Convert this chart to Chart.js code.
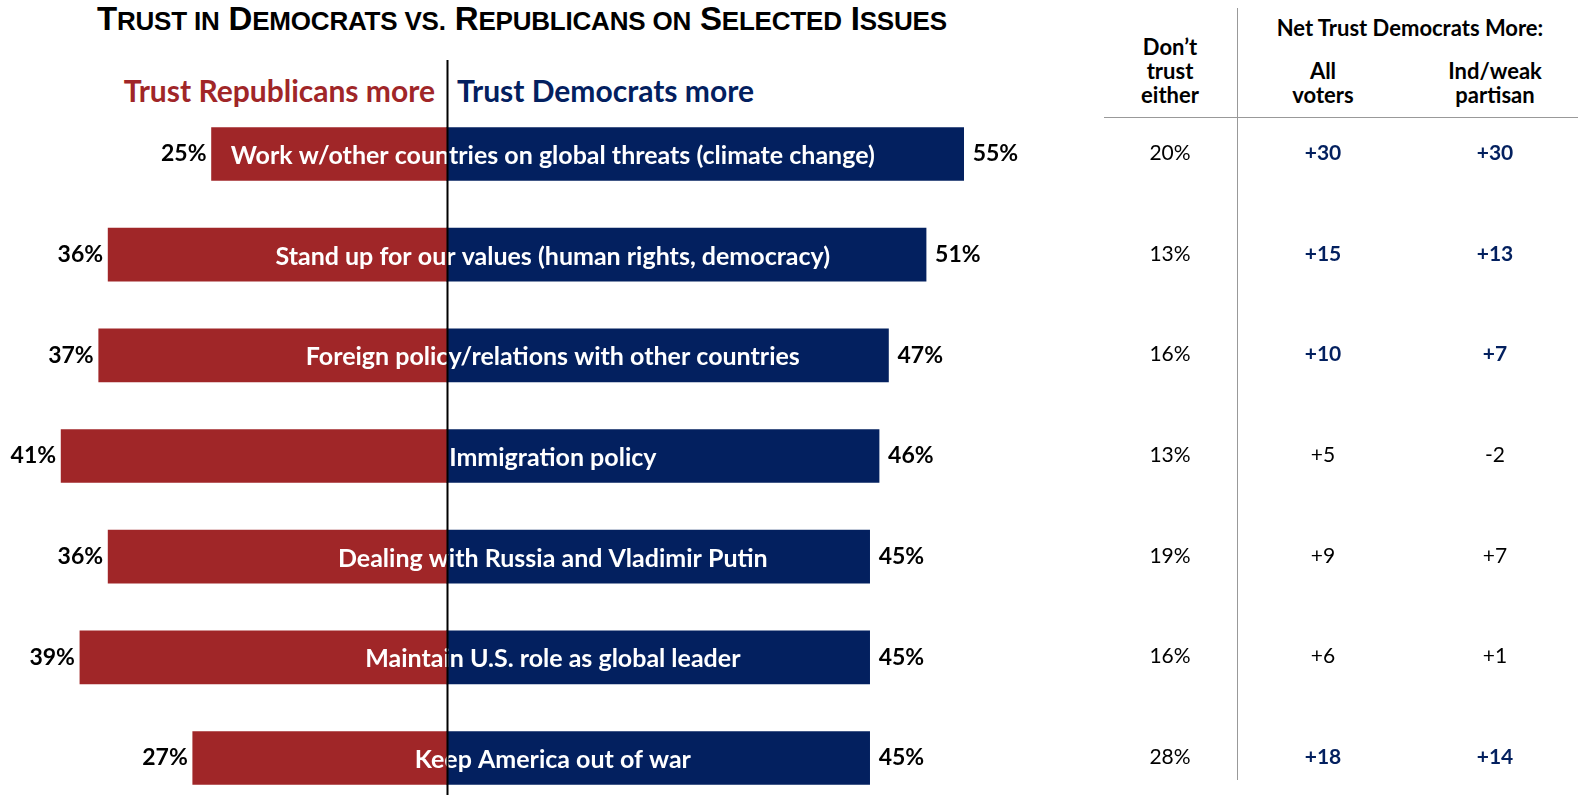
<!DOCTYPE html>
<html>
<head>
<meta charset="utf-8">
<script src="https://cdn.jsdelivr.net/npm/chart.js@4/dist/chart.umd.min.js"></script>
<style>
  html, body { margin: 0; padding: 0; background: #fff; overflow: hidden; }
  body { width: 1578px; height: 800px; position: relative; font-family: Lato, "Open Sans", sans-serif; }
  #chart { position: absolute; left: 0; top: 0; }
  .abs { position: absolute; white-space: nowrap; }
  #title { left: 97px; top: 0px; font-family: "Liberation Sans", Arial, sans-serif; font-weight: bold;
           font-size: 33px; letter-spacing: -0.2px; color: #000; }
  #title .sc { font-size: 26px; }
  .side { top: 72px; font-size: 30px; font-weight: bold; }
  #repHead { right: 1143px; color: #A02628; }
  #demHead { left: 457px; color: #03205F; }
  .th { font-size: 22px; font-weight: bold; text-align: center; line-height: 24px; color: #000; }
  .cell { font-size: 21px; text-align: center; width: 100px; margin-left: -50px; color: #000; }
  .cell.sig { font-weight: bold; color: #03205F; }
  #vline { left: 1237px; top: 8px; width: 1px; height: 772px; background: #999; }
  #hline { left: 1104px; top: 117px; width: 474px; height: 1px; background: #999; }
</style>
</head>
<body>
<div id="title" class="abs">T<span class="sc">RUST IN</span> D<span class="sc">EMOCRATS VS.</span> R<span class="sc">EPUBLICANS ON</span> S<span class="sc">ELECTED</span> I<span class="sc">SSUES</span></div>
<div id="repHead" class="abs side">Trust Republicans more</div>
<div id="demHead" class="abs side">Trust Democrats more</div>
<div id="vline" class="abs"></div>
<div id="hline" class="abs"></div>
<div class="abs th" style="left:1120px; top:35px; width:100px;">Don’t<br>trust<br>either</div>
<div class="abs th" style="left:1250px; top:16px; width:320px;">Net Trust Democrats More:</div>
<div class="abs th" style="left:1273px; top:59px; width:100px;">All<br>voters</div>
<div class="abs th" style="left:1425px; top:59px; width:140px;">Ind/weak<br>partisan</div>
<canvas id="chart" width="1578" height="800"></canvas>
<script>
const categories = [
  'Work w/other countries on global threats (climate change)',
  'Stand up for our values (human rights, democracy)',
  'Foreign policy/relations with other countries',
  'Immigration policy',
  'Dealing with Russia and Vladimir Putin',
  'Maintain U.S. role as global leader',
  'Keep America out of war'
];
const trustRep = [25, 36, 37, 41, 36, 39, 27];
const trustDem = [55, 51, 47, 46, 45, 45, 45];
const trustNeither = [20, 13, 16, 13, 19, 16, 28];
const netAllVoters = [30, 15, 10, 5, 9, 6, 18];
const netIndWeak = [30, 13, 7, -2, 7, 1, 14];
const significant = [true, true, true, false, false, false, true];

const RED = '#A02628';
const NAVY = '#03205F';
const LABEL_CENTER = 11.3; // x value where issue names are centred

const fmtNet = v => (v > 0 ? '+' : '') + v;

const labelPlugin = {
  id: 'labels',
  afterDatasetsDraw(chart) {
    const c = chart.ctx;
    const xs = chart.scales.x, ys = chart.scales.y;
    c.save();
    c.textBaseline = 'middle';
    categories.forEach((cat, i) => {
      const y = ys.getPixelForValue(i);
      c.fillStyle = '#000';
      c.font = 'bold 23px Lato, sans-serif';
      c.textAlign = 'right';
      c.fillText(trustRep[i] + '%', xs.getPixelForValue(-trustRep[i]) - 5, y);
      c.textAlign = 'left';
      c.fillText(trustDem[i] + '%', xs.getPixelForValue(trustDem[i]) + 9, y);
      c.fillStyle = '#fff';
      c.font = 'bold 25px Lato, sans-serif';
      c.textAlign = 'center';
      c.fillText(cat, xs.getPixelForValue(LABEL_CENTER), y + 2);
    });
    // centre line
    const x0 = Math.round(xs.getPixelForValue(0)) + 0.5;
    c.strokeStyle = '#000';
    c.lineWidth = 2;
    c.beginPath();
    c.moveTo(x0, 60);
    c.lineTo(x0, 795);
    c.stroke();
    c.restore();
  },
  afterRender(chart) {
    if (chart._tableDone) return;
    chart._tableDone = true;
    const ys = chart.scales.y;
    const cols = [
      { x: 1170, vals: trustNeither.map(v => v + '%'), sig: false },
      { x: 1323, vals: netAllVoters.map(fmtNet), sig: true },
      { x: 1495, vals: netIndWeak.map(fmtNet), sig: true }
    ];
    cols.forEach(col => {
      col.vals.forEach((txt, i) => {
        const d = document.createElement('div');
        d.className = 'abs cell' + (col.sig && significant[i] ? ' sig' : '');
        d.textContent = txt;
        d.style.left = col.x + 'px';
        d.style.top = (ys.getPixelForValue(i) - 15) + 'px';
        document.body.appendChild(d);
      });
    });
  }
};

new Chart(document.getElementById('chart'), {
  type: 'bar',
  data: {
    labels: categories,
    datasets: [
      { label: 'Trust Republicans more', data: trustRep.map(v => -v), backgroundColor: RED,
        barThickness: 53, clip: false },
      { label: 'Trust Democrats more', data: trustDem, backgroundColor: NAVY,
        barThickness: 53, clip: false }
    ]
  },
  options: {
    indexAxis: 'y',
    responsive: false,
    animation: false,
    devicePixelRatio: 1,
    layout: { padding: { left: 0, right: 478, top: 154, bottom: 42 } },
    plugins: { legend: { display: false }, tooltip: { enabled: false } },
    scales: {
      x: { stacked: true, min: -47.5, max: 69.5, display: false },
      y: { stacked: true, offset: false, display: false }
    }
  },
  plugins: [labelPlugin]
});
</script>
</body>
</html>
